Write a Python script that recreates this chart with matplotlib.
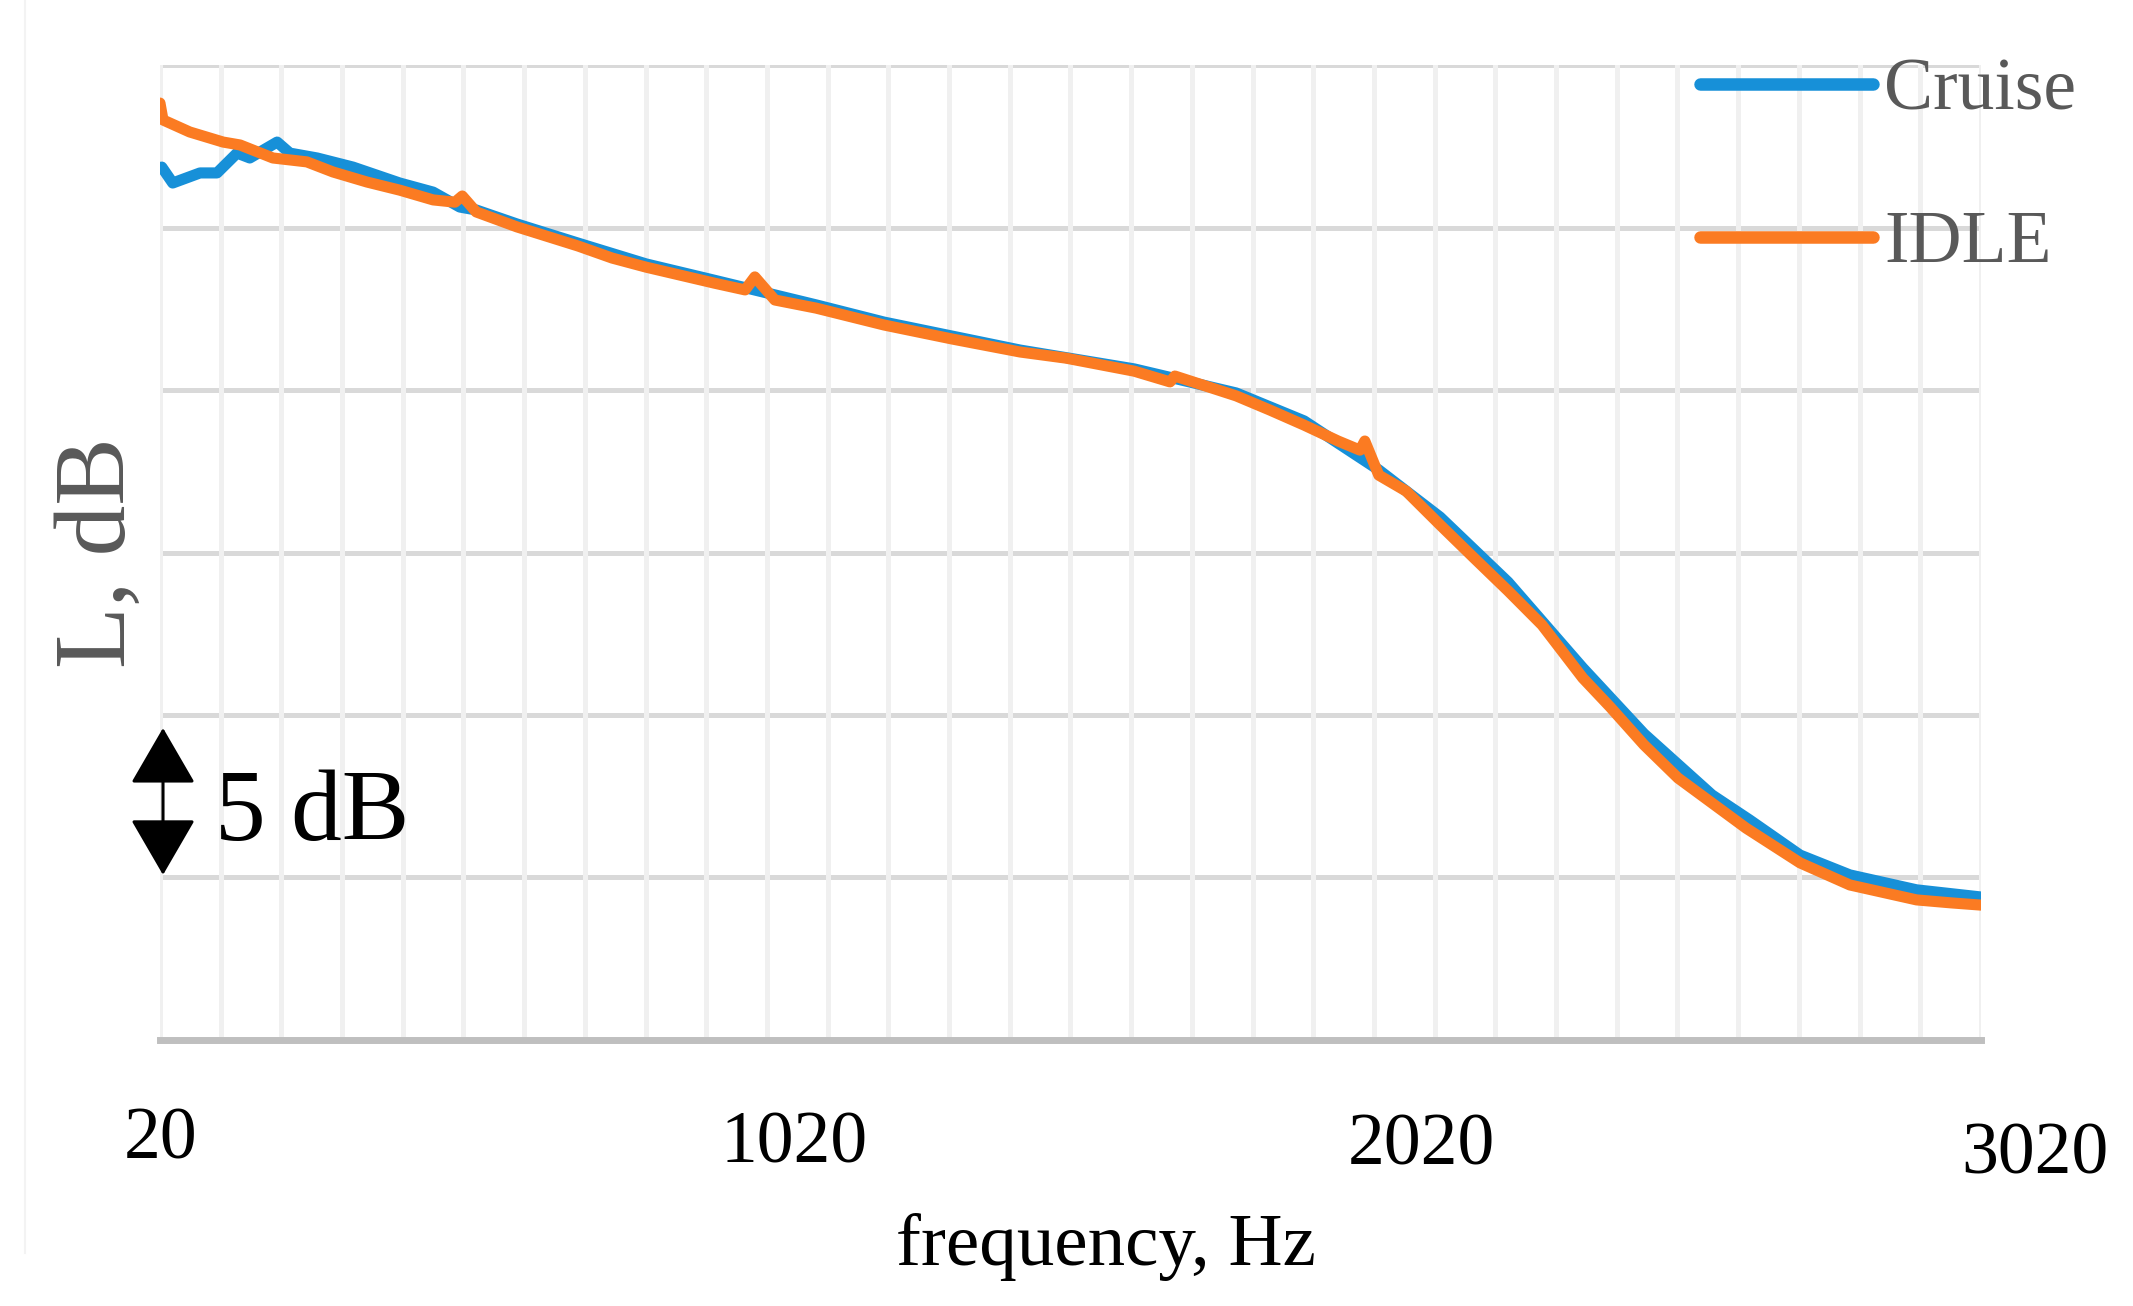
import matplotlib
matplotlib.use("Agg")
import matplotlib.pyplot as plt
from matplotlib.lines import Line2D
from matplotlib.ticker import FixedLocator, NullFormatter
from matplotlib.transforms import ScaledTranslation

plt.rcParams['font.family'] = ['Liberation Serif', 'DejaVu Serif']

# values (y is relative level, one grid step = 5 dB)
cruise_hz = [23, 41, 86, 114, 147, 168, 213, 234, 279, 338, 415, 470, 514, 541, 608, 709, 821,
             933, 1101, 1213, 1325, 1437, 1625, 1793, 1905, 2028, 2129, 2241, 2364, 2465, 2577,
             2639, 2722, 2804, 2914, 3020]
cruise_db = [26.86, 26.37, 26.68, 26.68, 27.29, 27.14, 27.63, 27.29, 27.14, 26.86, 26.37, 26.09,
             25.63, 25.54, 25.11, 24.52, 23.88, 23.38, 22.62, 22.09, 21.66, 21.23, 20.65, 19.91,
             19.05, 17.54, 16.09, 14.09, 11.45, 9.42, 7.54, 6.77, 5.69, 5.08, 4.62, 4.40]

idle_hz = [20, 25, 69, 124, 152, 206, 262, 305, 361, 415, 470, 506, 518, 541, 608, 709, 765, 821,
           933, 984, 1000, 1033, 1101, 1213, 1325, 1437, 1513, 1625, 1684, 1692, 1793, 1849, 1905,
           1961, 1997, 2005, 2028, 2073, 2129, 2185, 2241, 2297, 2364, 2409, 2465, 2521, 2577, 2633,
           2722, 2804, 2914, 2970, 3020]
idle_db = [28.83, 28.31, 27.94, 27.63, 27.54, 27.14, 27.02, 26.71, 26.40, 26.15, 25.85, 25.78,
           25.97, 25.48, 25.02, 24.43, 24.06, 23.78, 23.29, 23.08, 23.48, 22.77, 22.52, 22.0,
           21.57, 21.17, 20.98, 20.58, 20.25, 20.43, 19.82, 19.38, 18.92, 18.43, 18.15, 18.43,
           17.38, 16.89, 15.85, 14.83, 13.82, 12.77, 11.14, 10.25, 9.08, 8.06, 7.29, 6.52, 5.45,
           4.77, 4.31, 4.22, 4.15]

x_ticks = [20, 1020, 2020, 3020]
x_labels = ['20', '1020', '2020', '3020']
y_grid = [0, 5, 10, 15, 20, 25, 30]

blue = '#1790d8'
orange = '#fb7b22'
gray_text = '#595959'

fig = plt.figure(figsize=(21.33, 13.06), dpi=100)
ax = fig.add_axes([0.0750, 0.2037, 0.8537, 0.7465])

ax.plot(cruise_hz, cruise_db, color=blue, lw=8, label='Cruise', solid_capstyle='round')
ax.plot(idle_hz, idle_db, color=orange, lw=8, label='IDLE', solid_capstyle='round')

ax.set_xlim(20, 3020)
ax.set_ylim(0, 30)

ax.xaxis.set_major_locator(FixedLocator(x_ticks))
ax.set_xticklabels(x_labels)
ax.xaxis.set_minor_locator(FixedLocator(list(range(20, 3021, 100))))
ax.xaxis.set_minor_formatter(NullFormatter())
ax.set_yticks(y_grid)
ax.set_yticklabels([])
ax.tick_params(axis='both', which='both', length=0)
ax.tick_params(axis='x', labelsize=53, pad=48, labelcolor='black')

ax.set_axisbelow(True)
ax.xaxis.grid(True, which='both', color='#f0f0f0', lw=3.6)
ax.yaxis.grid(True, color='#d9d9d9', lw=3.6)
ax.yaxis.set_zorder(0.4)

for side in ['top', 'left', 'right']:
    ax.spines[side].set_visible(False)
ax.spines['bottom'].set_color('#bfbfbf')
ax.spines['bottom'].set_linewidth(5)

# the labels in the picture drift to the right and down
label_shift = [(1, 0), (27, -4), (47, -6), (54, -15)]
for tick, (dx, dy) in zip(ax.xaxis.get_major_ticks(), label_shift):
    lab = tick.label1
    lab.set_transform(lab.get_transform() + ScaledTranslation(dx / 100, dy / 100, fig.dpi_scale_trans))

ax.set_xlabel('frequency, Hz', fontsize=54, color='black', va='top')
ax.xaxis.set_label_coords(0.5195, -0.1774)
ax.set_ylabel('L, dB', fontsize=73, color=gray_text)
ax.yaxis.set_label_coords(-0.0071, 0.5)

# 5 dB scale marker
ax.annotate('', xy=(25, 9.6), xytext=(25, 5.08),
            arrowprops=dict(arrowstyle='<|-|>,head_length=0.5,head_width=0.29',
                            mutation_scale=72, color='black', lw=2.2,
                            shrinkA=0, shrinkB=0))
ax.text(111, 6.15, '5 dB', fontsize=73, color='black', va='baseline', ha='left')

leg = ax.legend(loc='upper left', bbox_to_anchor=(1700 / 2133, 1 - 58 / 1306),
                bbox_transform=fig.transFigure, frameon=False, prop={'size': 53},
                labelcolor=gray_text, handlelength=2.35, handletextpad=0.15,
                labelspacing=1.16, borderpad=0, borderaxespad=0)
for line in leg.get_lines():
    line.set_linewidth(9)

# faint frame line at the left edge of the picture
fig.add_artist(Line2D([25 / 2133, 25 / 2133], [1 - 1253 / 1306, 1.0],
                      transform=fig.transFigure, color='#f3f3f3', lw=1.5))

fig.savefig('out.png', dpi=100)
